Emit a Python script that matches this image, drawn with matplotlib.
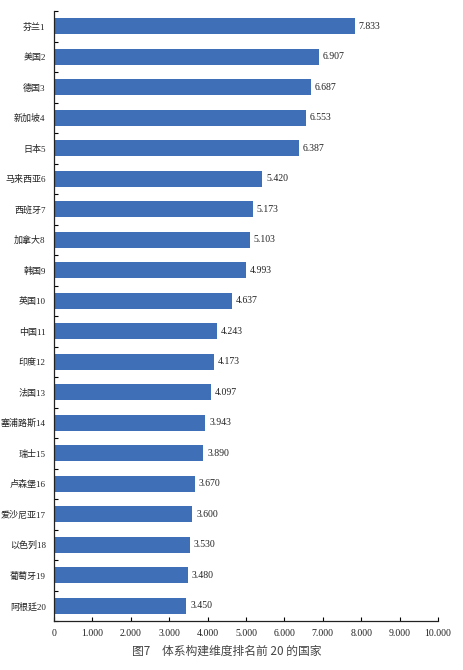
import numpy as np
import matplotlib.pyplot as plt

countries = ['芬兰1', '美国2', '德国3', '新加坡4', '日本5', '马来西亚6', '西班牙7', '加拿大8',
             '韩国9', '英国10', '中国11', '印度12', '法国13', '塞浦路斯14', '瑞士15', '卢森堡16',
             '爱沙尼亚17', '以色列18', '葡萄牙19', '阿根廷20']
scores = [7.833, 6.907, 6.687, 6.553, 6.387, 5.420, 5.173, 5.103, 4.993, 4.637,
          4.243, 4.173, 4.097, 3.943, 3.890, 3.670, 3.600, 3.530, 3.480, 3.450]
xticks = np.arange(0, 11, 1)
caption = '图7　体系构建维度排名前 20 的国家'

serif = ['Liberation Serif', 'Noto Sans CJK SC']

fig = plt.figure(figsize=(4.63, 6.70), dpi=100)
ax = fig.add_axes([54/463, 1 - 621/670, 384/463, 610/670])

y = np.arange(len(countries))
ax.barh(y, scores, height=0.52, color='#3f6fb6', zorder=2)
for yi, v in zip(y, scores):
    ax.text(v + 0.1, yi, '%.3f' % v, va='center', ha='left', fontsize=7,
            family=serif, color='#222222')

ax.set_ylim(len(countries) - 0.5, -0.5)
ax.set_xlim(0, 10)
ax.set_yticks(y)
ax.set_yticklabels(countries, family=serif, fontsize=6.5, color='#222222')
ax.set_yticks(np.arange(-0.5, len(countries), 1), minor=True)
ax.tick_params(axis='y', which='major', length=0, pad=6)
ax.tick_params(axis='y', which='minor', direction='in', length=3, width=0.8)

ax.set_xticks(xticks)
ax.set_xticklabels(['0'] + ['%d.000' % t for t in xticks[1:]], family=serif, fontsize=7,
                   color='#222222')
ax.tick_params(axis='x', direction='in', length=3, width=0.8, pad=6)

for s in ['top', 'right']:
    ax.spines[s].set_visible(False)
for s in ['left', 'bottom']:
    ax.spines[s].set_linewidth(0.9)
    ax.spines[s].set_color('#222222')

fig.text(227/463, 1 - 651/670, caption, ha='center', va='center', fontsize=8.5,
         family=['Noto Sans CJK SC', 'DejaVu Sans'], color='#444444')

fig.savefig('out.png', dpi=100)
